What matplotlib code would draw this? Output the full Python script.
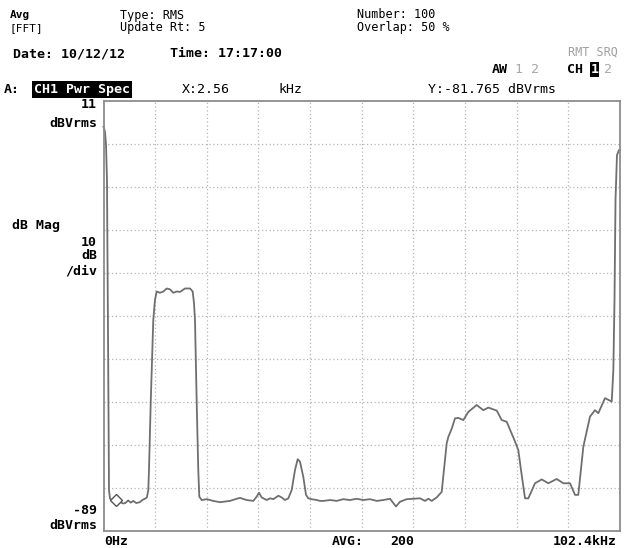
import matplotlib
matplotlib.use("Agg")
import matplotlib.pyplot as plt

# power spectrum trace, CH1 (frequency in kHz, level in dBVrms)
freq_khz = [
    0.0, 0.1, 0.3, 0.5, 0.69, 0.79, 0.89, 0.99, 1.09, 1.3,
    1.9, 2.56, 3.3, 3.9, 4.3, 4.9, 5.4, 5.9, 6.5, 7.2, 7.7, 8.2, 8.6,
    8.88, 9.02, 9.36, 9.87, 10.2, 10.55, 11.2, 11.86, 12.53, 13.18, 13.84,
    14.51, 15.17, 16.16, 17.15, 17.68, 17.94, 18.14, 18.48, 18.79, 18.99,
    19.47, 20.46, 21.77, 23.1, 25.08, 26.41, 27.07, 28.39, 29.7, 30.37,
    30.83, 31.37, 32.36, 33.01, 33.67, 34.66, 35.33, 35.98, 36.64, 37.31,
    37.97, 38.5, 38.96, 39.61, 40.15, 40.6, 41.28, 42.27, 42.92, 43.58,
    44.91, 46.24, 47.54, 48.87, 50.2, 51.51, 52.84, 54.17, 55.47, 56.8,
    57.99, 58.78, 60.11, 61.42, 62.75, 63.74, 64.4, 65.07, 66.06, 67.05,
    68.04, 68.37, 69.04, 69.69, 70.35, 71.34, 72.33, 73.99, 75.3, 76.29,
    77.96, 78.95, 79.94, 81.59, 82.24, 82.77, 83.57, 84.22, 85.55, 86.88,
    88.19, 89.85, 91.16, 92.49, 93.48, 94.13, 95.13, 96.45, 97.45, 98.1,
    99.43, 100.76, 101.08, 101.31, 101.51, 101.8, 102.2, 102.4,
]
mag_dbv = [
    5.0, 4.7, 3.8, 0.8, -7.4, -23.7, -42.3, -63.2, -79.5, -81.5,
    -82.0, -81.77, -82.3, -82.6, -82.5, -81.9, -82.4, -82.0, -82.5, -82.3, -81.8, -81.5, -81.2,
    -79.5, -74.8, -59.2, -39.9, -35.3, -33.3, -33.6, -33.3, -32.6, -32.8, -33.6,
    -33.3, -33.4, -32.6, -32.6, -33.3, -36.0, -39.9, -59.3, -74.8, -81.0,
    -81.8, -81.6, -82.0, -82.3, -82.0, -81.5, -81.3, -81.8, -82.0, -81.0,
    -80.1, -81.2, -81.8, -81.4, -81.6, -80.8, -81.2, -81.8, -81.4, -79.5,
    -74.8, -72.3, -72.9, -76.4, -80.6, -81.4, -81.6, -81.8, -82.0, -82.0,
    -81.8, -82.0, -81.6, -81.8, -81.5, -81.8, -81.6, -82.0, -81.8, -81.5,
    -83.3, -82.2, -81.6, -81.5, -81.4, -82.0, -81.5, -82.0, -81.2, -79.9,
    -68.6, -67.1, -65.2, -62.8, -62.7, -63.2, -61.3, -59.7, -60.9, -60.3,
    -61.0, -63.2, -63.6, -68.2, -70.2, -74.8, -81.4, -81.4, -77.9, -77.0,
    -77.9, -76.9, -77.9, -77.9, -80.6, -80.6, -69.4, -62.4, -60.9, -61.6,
    -58.1, -58.9, -51.6, -35.3, -12.0, -1.6, -0.4, -0.4,
]

marker_x = 2.56
marker_y = -81.765

x_start, x_stop = 0.0, 102.4
y_top, db_per_div = 11, 10
n_div = 10
y_bottom = y_top - db_per_div * n_div

W, H = 625, 548
fig = plt.figure(figsize=(W / 100, H / 100), dpi=100)
fig.patch.set_facecolor("white")

# plot area in pixels: x 103.5..620, y 101..531
ax = fig.add_axes([103.5 / W, 1 - 531 / H, (620 - 103.5) / W, (531 - 101) / H])
ax.set_xlim(x_start, x_stop)
ax.set_ylim(y_bottom, y_top)

step = (x_stop - x_start) / n_div
ax.set_xticks([x_start + i * step for i in range(1, n_div)])
ax.set_yticks([y_bottom + i * db_per_div for i in range(1, n_div)])
ax.tick_params(length=0, labelbottom=False, labelleft=False)
ax.grid(True, color="#b4b4b4", linestyle=(0, (1, 2)), linewidth=0.9)
for s in ax.spines.values():
    s.set_color("#8c8c8c")
    s.set_linewidth(1.3)

ax.plot(freq_khz, mag_dbv, color="#6f6f6f", linewidth=1.3, clip_on=False)
ax.plot([marker_x], [marker_y], marker="D", markersize=6.5, markerfacecolor="white",
        markeredgecolor="#555555", markeredgewidth=1.0)

mono = "DejaVu Sans Mono"
fs = 9.5


def label(x, y, s, ha="left", weight="bold", color="black", size=fs, **kw):
    fig.text(x / W, 1 - y / H, s, ha=ha, va="baseline", family=mono,
             weight=weight, color=color, fontsize=size, **kw)


# header, two stacked rows
label(10, 18.5, "Avg", size=8)
label(10, 31, "[FFT]", weight="normal", size=8)
label(120, 18.5, "Type: RMS", weight="normal", size=8.5)
label(120, 31, "Update Rt: 5", weight="normal", size=8.5)
label(357, 18.5, "Number: 100", weight="normal", size=8.5)
label(357, 31, "Overlap: 50 %", weight="normal", size=8.5)
label(12.7, 57.3, "Date: 10/12/12")
label(170, 57.3, "Time: 17:17:00")
label(618, 55.5, "RMT SRQ", ha="right", weight="normal", color="#a0a0a0", size=8.5)
label(492, 73, "AW")
label(515, 73, "1 2", weight="normal", color="#a8a8a8")
label(567, 73, "CH")
label(590.5, 73, "1", color="white",
      bbox=dict(facecolor="black", edgecolor="none", pad=0.6))
label(604, 73, "2", weight="normal", color="#a8a8a8")

# trace line
label(3.5, 93, "A:")
label(34, 93, "CH1 Pwr Spec", color="white",
      bbox=dict(facecolor="black", edgecolor="none", pad=1.2))
label(182, 93, f"X:{marker_x:.2f}", weight="normal")
label(278, 93, "kHz", weight="normal")
label(428, 93, f"Y:{marker_y:.3f} dBVrms", weight="normal")

# left scale
label(97, 108.5, f"{y_top}", ha="right")
label(97, 127, "dBVrms", ha="right")
label(12, 229, "dB Mag")
label(97, 246.5, f"{db_per_div}", ha="right")
label(97, 259, "dB", ha="right")
label(97, 274, "/div", ha="right")
label(97, 514, f"{y_bottom}", ha="right")
label(97, 529, "dBVrms", ha="right")

# bottom scale
label(104, 545, "0Hz")
label(331.7, 545, "AVG:")
label(390, 545, "200")
label(617, 545, f"{x_stop}kHz", ha="right")

fig.savefig("out.png", dpi=100, facecolor="white")
